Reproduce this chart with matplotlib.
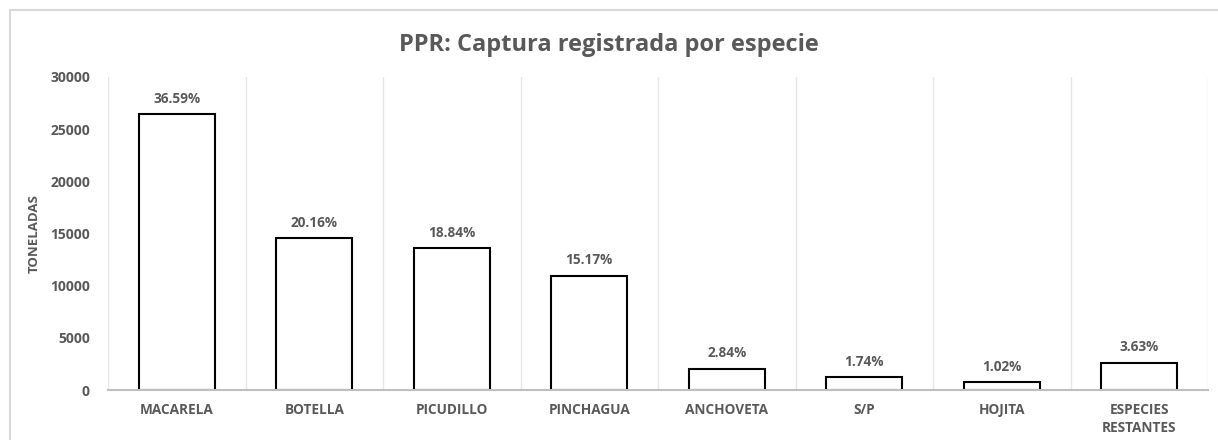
import matplotlib.pyplot as plt
from matplotlib.patches import Rectangle

especies = ["MACARELA", "BOTELLA", "PICUDILLO", "PINCHAGUA", "ANCHOVETA",
            "S/P", "HOJITA", "ESPECIES\nRESTANTES"]
toneladas = [26450, 14570, 13620, 10970, 2050, 1260, 740, 2620]
porcentajes = ["36.59%", "20.16%", "18.84%", "15.17%", "2.84%",
               "1.74%", "1.02%", "3.63%"]
y_ticks = [0, 5000, 10000, 15000, 20000, 25000, 30000]

TEXT = "#595959"
plt.rcParams["font.family"] = ["Open Sans", "DejaVu Sans"]

fig = plt.figure(figsize=(12.18, 4.40), dpi=100)
ax = fig.add_axes([108 / 1218, 50 / 440, 1100 / 1218, 313 / 440])

# chart border (left and top visible)
fig.patches.append(Rectangle((9.5 / 1218, -0.1), 1.2, (430 / 440) + 0.1,
                             transform=fig.transFigure, fill=False,
                             edgecolor="#d9d9d9", linewidth=1.5))

x = range(len(especies))
ax.bar(x, toneladas, width=0.55, color="white", edgecolor="black",
       linewidth=1.5, zorder=3)

for xi, v, p in zip(x, toneladas, porcentajes):
    ax.text(xi, v + 800, p, ha="center", va="bottom", fontsize=9.8,
            fontweight="bold", color=TEXT)

ax.set_xlim(-0.5, len(especies) - 0.5)
ax.set_ylim(0, 30000)
ax.set_yticks(y_ticks)
ax.set_yticklabels([str(t) for t in y_ticks], fontsize=10, fontweight="bold",
                   color=TEXT)
ax.set_xticks(list(x))
ax.set_xticklabels(especies, fontsize=9.8, fontweight="bold", color=TEXT,
                   linespacing=1.45, va="top")
ax.tick_params(axis="both", length=0)
ax.tick_params(axis="x", pad=9)
ax.tick_params(axis="y", pad=13)

# vertical gridlines between categories
for b in range(len(especies) + 1):
    ax.axvline(b - 0.5, color="#e6e6e6", linewidth=1, zorder=1)

for s in ["top", "right", "left"]:
    ax.spines[s].set_visible(False)
ax.spines["bottom"].set_color("#bfbfbf")
ax.spines["bottom"].set_linewidth(1.5)
ax.spines["bottom"].set_zorder(4)

ax.set_ylabel("TONELADAS", fontsize=9.5, fontweight="bold", color=TEXT,
              labelpad=7)
fig.text(0.5, 395 / 440, "PPR: Captura registrada por especie", ha="center",
         va="center", fontsize=17, fontweight="bold", color=TEXT)

fig.savefig("out.png", dpi=100)
